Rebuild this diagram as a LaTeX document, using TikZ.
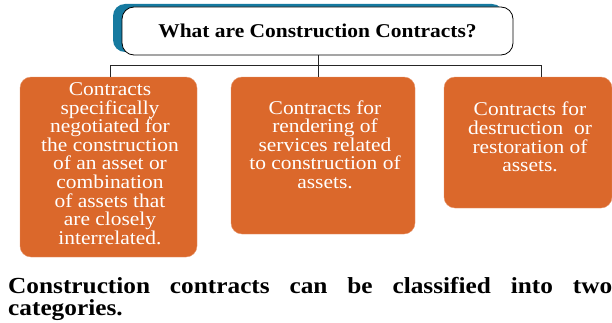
\documentclass[tikz,border=0pt]{standalone}
\usepackage{fontspec}
\setmainfont{Liberation Serif}
\newfontfamily\wideserif[FakeStretch=1.1]{Liberation Serif}
\usepackage{tikz}
\usetikzlibrary{calc}

\definecolor{boxorange}{RGB}{219,104,43}
\definecolor{titleblue}{RGB}{22,122,160}

\tikzset{
    box/.style={fill=boxorange, draw=boxorange!70!white, rounded corners=11pt},
    boxtext/.style={text=white, align=center, font=\wideserif\fontsize{19.5}{18.6}\selectfont, inner sep=0pt},
    link/.style={draw=black!85, line width=0.8pt}
}

\begin{document}
\begin{tikzpicture}[x=1pt, y=1pt]
    \useasboundingbox (0,0) rectangle (612,322);
    % Antraštė
    \fill[titleblue, rounded corners=12pt] (113,270) rectangle (504,318);
    \node[draw=black, line width=0.8pt, fill=white, rounded corners=12pt,
          minimum width=391pt, minimum height=48pt, inner sep=0pt,
          font=\wideserif\fontsize{19.5}{24}\selectfont\bfseries] (title) at (317.5,291) {What are Construction Contracts?};
    % Trys dėžutės
    \node[box, minimum width=177pt, minimum height=180pt] (b1) at (108.5,155) {};
    \node[box, minimum width=184pt, minimum height=157pt] (b2) at (323,166.5) {};
    \node[box, minimum width=168pt, minimum height=131pt] (b3) at (528,179.5) {};
    \node[boxtext] (t1) at (110,158.5) {Contracts\\specifically\\negotiated for\\the construction\\of an asset or\\combination\\of assets that\\are closely\\interrelated.};
    \node[boxtext] (t2) at (325,177.5) {Contracts for\\rendering of\\services related\\to construction of\\assets.};
    \node[boxtext] (t3) at (530,185) {Contracts for\\destruction\ \ or\\restoration of\\assets.};
    % Jungtys
    \coordinate (hub) at (318,257);
    \draw[link] (title.south -| hub) -- (hub);
    \draw[link] (hub) -| ([xshift=1.5pt]b1.north);
    \draw[link] (hub) -| ([xshift=218pt]b2.north);
    \draw[link] (hub) -- ([xshift=-5pt]b2.north);
    % Apatinis tekstas
    \node[anchor=base west, text width=604pt, align=justify, inner sep=0pt,
          font=\wideserif\fontsize{23}{22}\selectfont\bfseries] (note) at (8,29)
          {Construction contracts can be classified into two\linebreak categories.};
\end{tikzpicture}
\end{document}
